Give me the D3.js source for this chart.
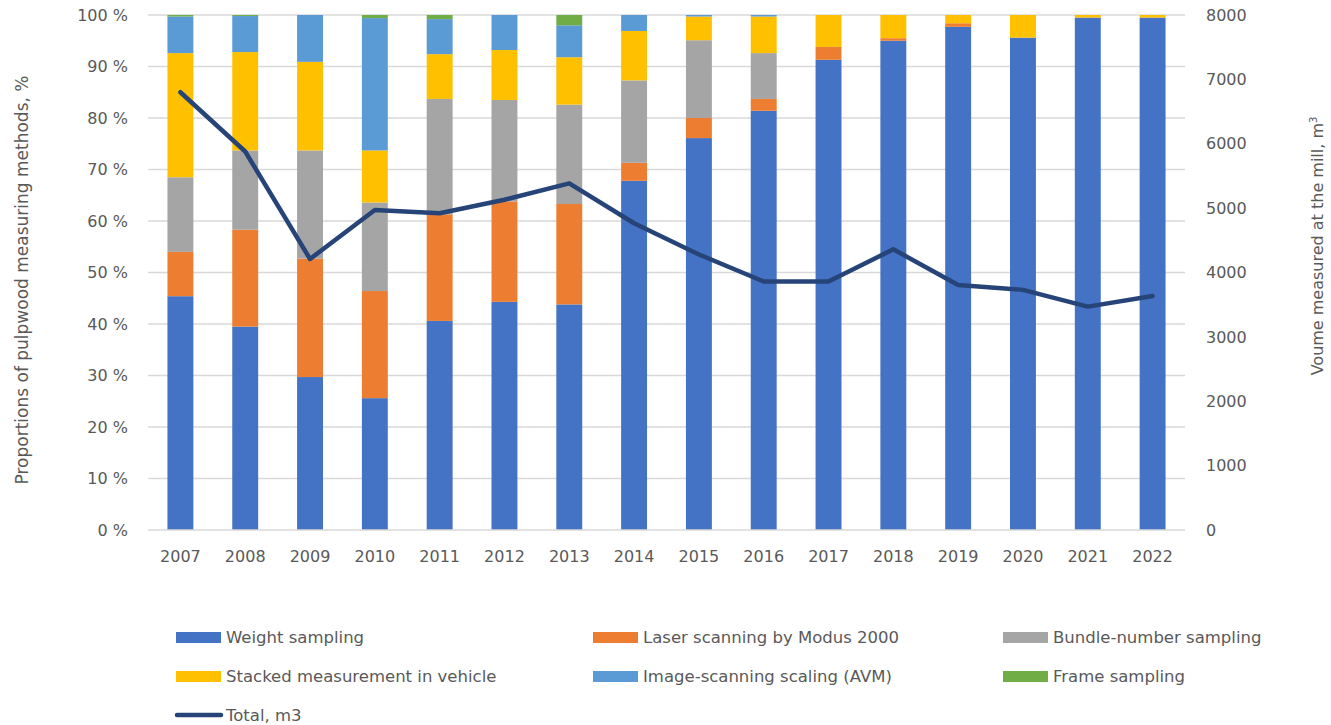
<!DOCTYPE html>
<html>
<head>
<meta charset="utf-8">
<script src="https://cdn.jsdelivr.net/npm/d3@7"></script>
<style>
	body { margin: 0; background: #fff; }
	text { font-family: "DejaVu Sans", "Liberation Sans", Arial, sans-serif; fill: #595959; }
</style>
</head>
<body>
<svg id="chart" width="1331" height="725"></svg>
<script>
	let years = ['2007', '2008', '2009', '2010', '2011', '2012', '2013', '2014', '2015', '2016', '2017', '2018', '2019', '2020', '2021', '2022'];
	let methods = ['Weight sampling', 'Laser scanning by Modus 2000', 'Bundle-number sampling',
		'Stacked measurement in vehicle', 'Image-scanning scaling (AVM)', 'Frame sampling'];
	let colors = ['#4472c4', '#ed7d31', '#a5a5a5', '#ffc000', '#5b9bd5', '#70ad47'];

	// shares in %, one array per method
	let weight  = [45.4, 39.5, 29.7, 25.6, 40.6, 44.3, 43.8, 67.8, 76.1, 81.4, 91.3, 95.0, 97.7, 95.6, 99.5, 99.5];
	let laser   = [8.6, 18.8, 23.0, 20.8, 20.7, 19.5, 19.5, 3.5, 3.9, 2.3, 2.5, 0.5, 0.7, 0, 0, 0];
	let bundle  = [14.5, 15.4, 21.0, 17.2, 22.4, 19.7, 19.3, 16.0, 15.1, 8.9, 0, 0, 0, 0, 0, 0];
	let stacked = [24.1, 19.1, 17.2, 10.1, 8.7, 9.7, 9.2, 9.6, 4.6, 7.1, 6.2, 4.5, 1.6, 4.4, 0.5, 0.5];
	let avm     = [7.1, 7.0, 9.1, 25.7, 6.8, 6.8, 6.2, 3.1, 0.3, 0.3, 0, 0, 0, 0, 0, 0];
	let frame   = [0.3, 0.2, 0, 0.6, 0.8, 0, 2.0, 0, 0, 0, 0, 0, 0, 0, 0, 0];
	let total   = [6800, 5880, 4210, 4970, 4920, 5130, 5385, 4765, 4280, 3860, 3860, 4360, 3805, 3730, 3470, 3635];

	let pctTicks = [0, 10, 20, 30, 40, 50, 60, 70, 80, 90, 100];
	let volTicks = [0, 1000, 2000, 3000, 4000, 5000, 6000, 7000, 8000];

	(function() {
		let series = [weight, laser, bundle, stacked, avm, frame];
		let rows = years.map((y, i) => {
			let r = { year: y };
			methods.forEach((m, k) => r[m] = series[k][i]);
			return r;
		});

		let svg = d3.select('#chart');
		let x0 = 148, x1 = 1185, y0 = 530, y1 = 15;

		let x = d3.scaleBand().domain(years).range([x0, x1]).paddingInner(0.6).paddingOuter(0.3);
		let y = d3.scaleLinear().domain([0, 100]).range([y0, y1]);
		let y2 = d3.scaleLinear().domain([0, 8000]).range([y0, y1]);

		// gridlines
		svg.append('g').selectAll('line')
			.data(pctTicks.slice(1))
			.enter().append('line')
			.attr('x1', x0).attr('x2', x1)
			.attr('y1', d => y(d)).attr('y2', d => y(d))
			.attr('stroke', '#d9d9d9').attr('stroke-width', 1.5);

		// stacked bars
		let stack = d3.stack().keys(methods)(rows);
		svg.append('g').selectAll('g')
			.data(stack)
			.enter().append('g')
			.attr('fill', (d, i) => colors[i])
			.selectAll('rect')
			.data(d => d)
			.enter().append('rect')
			.attr('x', d => x(d.data.year))
			.attr('width', x.bandwidth())
			.attr('y', d => y(d[1]))
			.attr('height', d => y(d[0]) - y(d[1]));

		// baseline
		svg.append('line')
			.attr('x1', x0).attr('x2', x1)
			.attr('y1', y0).attr('y2', y0)
			.attr('stroke', '#d9d9d9').attr('stroke-width', 1.5);

		// total line
		let line = d3.line()
			.x((d, i) => x(years[i]) + x.bandwidth() / 2)
			.y(d => y2(d));
		svg.append('path')
			.datum(total)
			.attr('d', line)
			.attr('fill', 'none')
			.attr('stroke', '#264478')
			.attr('stroke-width', 4.5)
			.attr('stroke-linejoin', 'round')
			.attr('stroke-linecap', 'round');

		// axes
		let leftAxis = svg.append('g')
			.attr('transform', `translate(${x0 - 20},0)`)
			.call(d3.axisLeft(y).tickValues(pctTicks).tickFormat(d => d + ' %').tickSize(0).tickPadding(0));
		let rightAxis = svg.append('g')
			.attr('transform', `translate(${x1 + 21},0)`)
			.call(d3.axisRight(y2).tickValues(volTicks).tickFormat(d3.format('d')).tickSize(0).tickPadding(0));
		let bottomAxis = svg.append('g')
			.attr('transform', `translate(0,${y0 + 21})`)
			.call(d3.axisBottom(x).tickSize(0).tickPadding(0));
		[leftAxis, rightAxis, bottomAxis].forEach(a => {
			a.select('.domain').remove();
			a.selectAll('text').style('font-size', '16px').attr('fill', '#595959');
		});
		bottomAxis.selectAll('text').attr('dy', '0.71em');

		// axis titles
		svg.append('text')
			.attr('transform', 'translate(28,280) rotate(-90)')
			.attr('text-anchor', 'middle')
			.style('font-size', '17px')
			.text('Proportions of pulpwood measuring methods, %');
		let rt = svg.append('text')
			.attr('transform', 'translate(1323,246) rotate(-90)')
			.attr('text-anchor', 'middle')
			.style('font-size', '16px')
			.text('Voume measured at the mill, m');
		rt.append('tspan').attr('dy', '-6').style('font-size', '10px').text('3');

		// legend
		let legendX = [176, 593, 1003];
		let legendY = [637, 676];
		let legend = svg.append('g');
		methods.forEach((m, i) => {
			let lx = legendX[i % 3], ly = legendY[Math.floor(i / 3)];
			legend.append('rect')
				.attr('x', lx).attr('y', ly - 5)
				.attr('width', 45).attr('height', 11)
				.attr('fill', colors[i]);
			legend.append('text')
				.attr('x', lx + 50).attr('y', ly)
				.attr('dy', '0.35em')
				.style('font-size', '16.5px')
				.text(m);
		});
		legend.append('line')
			.attr('x1', 177).attr('x2', 221)
			.attr('y1', 715).attr('y2', 715)
			.attr('stroke', '#264478').attr('stroke-width', 4.5)
			.attr('stroke-linecap', 'round');
		legend.append('text')
			.attr('x', 226).attr('y', 715)
			.attr('dy', '0.35em')
			.style('font-size', '16.5px')
			.text('Total, m3');
	})();
</script>
</body>
</html>
